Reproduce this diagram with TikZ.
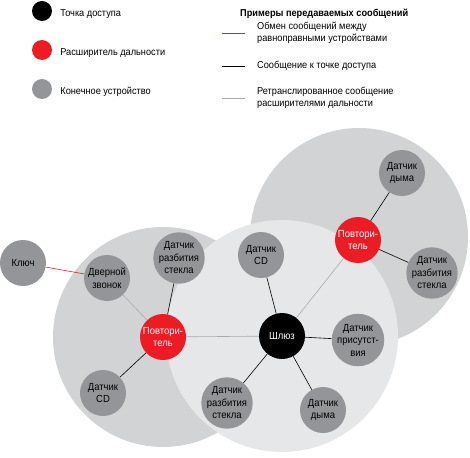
\documentclass[tikz,border=0pt]{standalone}
\usepackage{fontspec}
\setmainfont{Liberation Sans}[FakeStretch=0.92]
\usepackage{xcolor}
\usepackage{tikz}
\usetikzlibrary{
  positioning
}
\definecolor{ZoneGray}{HTML}{D1D3D4}
\definecolor{ZoneLight}{HTML}{E6E7E8}
\definecolor{DeviceGray}{HTML}{939598}
\definecolor{RepeaterRed}{HTML}{ED1C24}
\definecolor{RelayGray}{HTML}{A7A9AC}
\tikzset{
  unit/.style={
    circle,
    inner sep=0pt,
    minimum size=46pt,
    align=center,
    font=\fontsize{10.3}{12.5}\selectfont
  },
  device/.style={
    unit,
    fill=DeviceGray
  },
  repeater/.style={
    unit,
    fill=RepeaterRed,
    text=white
  },
  gateway/.style={
    unit,
    fill=black,
    text=white
  },
  dot/.style={
    circle,
    inner sep=0pt,
    minimum size=20pt
  },
  legendtext/.style={
    anchor=west,
    inner sep=0pt,
    align=left,
    font=\fontsize{10}{12.5}\selectfont
  },
  peer/.style={
    draw=RepeaterRed,
    line width=0.6pt
  },
  direct/.style={
    draw=black,
    line width=0.6pt
  },
  relayed/.style={
    draw=RelayGray,
    line width=0.6pt
  }
}

\begin{document}
\begin{tikzpicture}[x=1pt,y=-1pt]

  \useasboundingbox (0,0) rectangle (470,457);

  \fill[ZoneGray] (163,337) circle[radius=110pt];
  \fill[ZoneGray] (359,237) circle[radius=109pt];
  \fill[ZoneLight] (282,336) circle[radius=116pt];

  \node[dot, fill=black] at (42,11) (apdot) {};
  \node[dot, fill=RepeaterRed] at (42,50) (rpdot) {};
  \node[dot, fill=DeviceGray] at (42,89) (devdot) {};

  \node[legendtext, right=8pt of apdot, yshift=-3pt] (aplabel) {Точка доступа};
  \node[legendtext, right=8pt of rpdot, yshift=-3pt] (rplabel) {Расширитель дальности};
  \node[legendtext, right=8pt of devdot, yshift=-3pt] (devlabel) {Конечное устройство};

  \node[
    legendtext,
    font=\bfseries\fontsize{10}{12.5}\selectfont
  ] at (240,14) (legendtitle) {
    Примеры передаваемых сообщений
  };

  \coordinate (peerA) at (222,33);
  \coordinate (peerB) at (245,33);
  \coordinate (directA) at (222,66);
  \coordinate (directB) at (245,66);
  \coordinate (relayA) at (222,98);
  \coordinate (relayB) at (245,98);

  \draw[peer] (peerA) -- (peerB);
  \draw[direct] (directA) -- (directB);
  \draw[relayed] (relayA) -- (relayB);

  \node[legendtext] at (257,33) (peerlabel) {
    Обмен сообщений между\\
    равноправными устройствами
  };
  \node[legendtext] at (257,66) (directlabel) {
    Сообщение к точке доступа
  };
  \node[legendtext] at (257,98) (relaylabel) {
    Ретранслированное сообщение\\
    расширителями дальности
  };

  \node[gateway] at (282,336) (gw) {Шлюз};

  \node[repeater] at (163,337) (repL) {Повтори-\\тель};
  \node[repeater] at (358,240) (repR) {Повтори-\\тель};

  \node[device] at (23,263) (key) {Ключ};
  \node[device] at (107,278) (bell) {Дверной\\звонок};
  \node[device] at (179,258) (glassL) {Датчик\\разбития\\стекла};
  \node[device] at (103,393) (cdL) {Датчик\\CD};

  \node[device] at (261,255) (cdC) {Датчик\\CD};
  \node[device] at (358,340) (presence) {Датчик\\присутст-\\вия};
  \node[device] at (323,410) (smokeC) {Датчик\\дыма};
  \node[device] at (227,403) (glassC) {Датчик\\разбития\\стекла};

  \node[device] at (402,173) (smokeR) {Датчик\\дыма};
  \node[device] at (432,273) (glassR) {Датчик\\разбития\\стекла};

  \draw[peer] (key) -- (bell);
  \draw[relayed] (bell) -- (repL);
  \draw[direct] (glassL) -- (repL);
  \draw[direct] (cdL) -- (repL);
  \draw[relayed] (repL) -- (gw);

  \draw[direct] (cdC) -- (gw);
  \draw[direct] (presence) -- (gw);
  \draw[direct] (smokeC) -- (gw);
  \draw[direct] (glassC) -- (gw);
  \draw[relayed] (repR) -- (gw);

  \draw[direct] (smokeR) -- (repR);
  \draw[direct] (glassR) -- (repR);

\end{tikzpicture}
\end{document}
